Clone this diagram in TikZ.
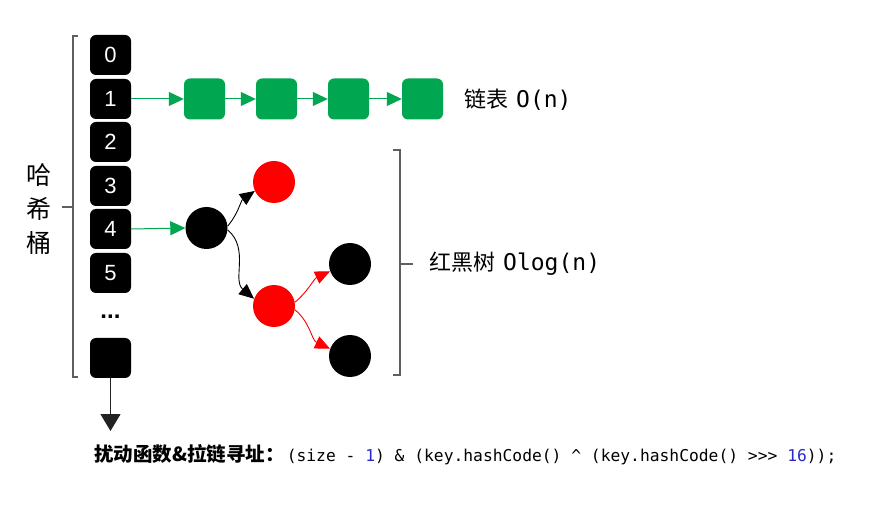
\documentclass[tikz,border=0pt]{standalone}
\usepackage{fontspec}
\setmainfont{Liberation Sans}
\newfontfamily\cjk{Noto Sans CJK SC}
\newfontfamily\mono{DejaVu Sans Mono}
\usetikzlibrary{arrows.meta}
\definecolor{lgreen}{RGB}{0,166,80}
\definecolor{brk}{RGB}{95,95,95}
\definecolor{codeblue}{RGB}{40,40,200}
\definecolor{darr}{RGB}{34,34,34}
\begin{document}
\begin{tikzpicture}[x=1pt,y=1pt,
  bucket/.style={rectangle, rounded corners=6pt, fill=black, minimum width=41pt, minimum height=40pt, inner sep=0pt, text=white, font=\fontsize{22}{22}\selectfont},
  listbox/.style={rectangle, rounded corners=6pt, fill=lgreen, minimum size=41pt, inner sep=0pt},
  rbnode/.style={circle, minimum size=42pt, inner sep=0pt},
  garrow/.style={color=lgreen, line width=1pt, -{Triangle[length=15pt,width=14pt]}},
  barrow/.style={color=black, line width=0.9pt, -{Triangle[length=15pt,width=13pt]}},
  rarrow/.style={color=red, line width=0.9pt, -{Triangle[length=15pt,width=13pt]}},
  darrow/.style={color=darr, line width=1.2pt, -{Triangle[length=17pt,width=20pt]}},
  bracket/.style={draw=brk, line width=1.2pt},
  lbl/.style={anchor=west, inner sep=0pt, font=\fontsize{22}{22}\selectfont},
]
\useasboundingbox (0,0) rectangle (878,-518);
% buckets
\node[bucket] (b0) at (110.5,-55) {0};
\node[bucket] (b1) at (110.5,-99) {1};
\node[bucket] (b2) at (110.5,-142) {2};
\node[bucket] (b3) at (110.5,-186) {3};
\node[bucket] (b4) at (110.5,-229) {4};
\node[bucket] (b5) at (110.5,-273) {5};
\node[font=\bfseries\fontsize{24}{24}\selectfont, inner sep=0pt] (dots) at (110.5,-317) {...};
\node[bucket] (bl) at (110.5,-358) {};
\coordinate (dend) at (110.5,-431);
\draw[darrow] (bl.south) -- (dend);
% left bracket and label
\draw[bracket] (78,-36) -- (73,-36) -- (73,-377) -- (78,-377);
\draw[bracket] (73,-207) -- (62,-207);
\node[align=center, inner sep=0pt, font=\cjk\fontsize{25}{34}\selectfont] (hx) at (39,-209) {哈\\希\\桶};
% linked list
\node[listbox] (g1) at (204.5,-99) {};
\node[listbox] (g2) at (276.5,-99) {};
\node[listbox] (g3) at (348.5,-99) {};
\node[listbox] (g4) at (422.5,-99) {};
\draw[garrow] (b1.east) -- (g1.west);
\draw[garrow] (g1.east) -- (g2.west);
\draw[garrow] (g2.east) -- (g3.west);
\draw[garrow] (g3.east) -- (g4.west);
\node[lbl] (ll) at (464,-100) {{\cjk 链表}\hspace{8pt}{\mono\fontsize{23}{23}\selectfont O(n)}};
% red-black tree
\node[rbnode, fill=black] (root) at (206.5,-228) {};
\node[rbnode, fill=red] (rt) at (274,-182) {};
\node[rbnode, fill=red] (rb) at (274,-306) {};
\node[rbnode, fill=black] (k1) at (350,-264) {};
\node[rbnode, fill=black] (k2) at (350,-356) {};
\draw[garrow] (b4.east) -- (root.west);
\draw[barrow] (root.5) to[out=50, in=215] (rt.205);
\draw[barrow] (root.-5) to[out=-40, in=140] (rb.160);
\draw[rarrow] (rb.10) to[out=40, in=205] (k1.200);
\draw[rarrow] (rb.-10) to[out=-40, in=155] (k2.160);
% right bracket and label
\draw[bracket] (393,-150) -- (400,-150) -- (400,-375) -- (393,-375);
\draw[bracket] (400,-264) -- (413,-264);
\node[lbl] (tl) at (429,-264) {{\cjk 红黑树}\hspace{8pt}{\mono\fontsize{23}{23}\selectfont Olog(n)}};
% formula
\node[anchor=west, inner sep=0pt] (code) at (94,-455) {{\cjk\bfseries\fontsize{19.5}{19.5}\selectfont 扰动函数\&拉链寻址：}\hspace{2pt}{\mono\fontsize{16.3}{17}\selectfont (size - {\color{codeblue}1}) \& (key.hashCode() \textasciicircum{} (key.hashCode() >{}>{}> {\color{codeblue}16}));}};
\end{tikzpicture}
\end{document}
